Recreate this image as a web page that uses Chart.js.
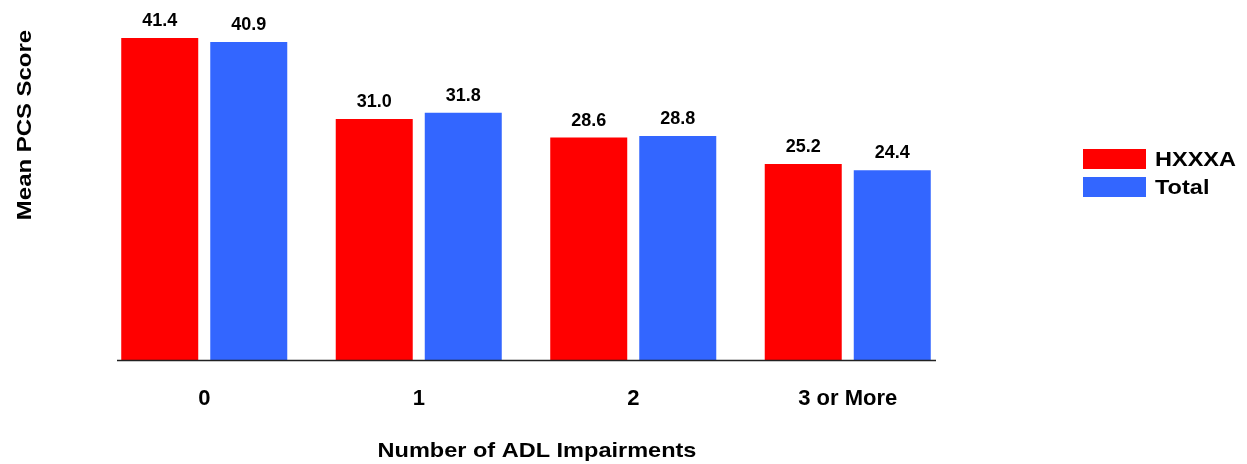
<!DOCTYPE html>
<html>
<head>
<meta charset="utf-8">
<script src="https://cdn.jsdelivr.net/npm/chart.js@4/dist/chart.umd.min.js"></script>
<style>
  html, body { margin: 0; padding: 0; background: #fff; }
  #wrap { width: 1247px; height: 464px; position: relative; }
</style>
</head>
<body>
<div id="wrap"><canvas id="myChart"></canvas></div>
<script>
const categories = ['0', '1', '2', '3 or More'];
const hxxxaValues = [41.4, 31.0, 28.6, 25.2];
const totalValues = [40.9, 31.8, 28.8, 24.4];
const seriesNames = ['HXXXA', 'Total'];
const seriesColors = ['#ff0000', '#3366ff'];

const FONT = '"Liberation Sans", Arial, Helvetica, sans-serif';

// the source text is a little wider than Liberation Sans, so stretch it
function wideText(ctx, text, x, y, stretch) {
  ctx.save();
  ctx.translate(x, y);
  ctx.scale(stretch, 1);
  ctx.fillText(text, 0, 0);
  ctx.restore();
}

// axis line, value labels, titles and legend drawn on top
const decorations = {
  id: 'decorations',
  afterDatasetsDraw(chart) {
    const ctx = chart.ctx;
    const area = chart.chartArea;
    ctx.save();

    // baseline
    ctx.strokeStyle = '#222';
    ctx.lineWidth = 1.5;
    ctx.beginPath();
    ctx.moveTo(area.left + 20, area.bottom + 0.5);
    ctx.lineTo(area.right - 19, area.bottom + 0.5);
    ctx.stroke();

    // value labels
    ctx.fillStyle = '#000';
    ctx.font = 'bold 18px ' + FONT;
    ctx.textAlign = 'center';
    ctx.textBaseline = 'alphabetic';
    chart.data.datasets.forEach((ds, i) => {
      chart.getDatasetMeta(i).data.forEach((bar, j) => {
        ctx.fillText(ds.data[j].toFixed(1), bar.x, bar.y - 12);
      });
    });

    // axis titles
    ctx.font = 'bold 21px ' + FONT;
    wideText(ctx, 'Number of ADL Impairments', 537, 457, 1.12);
    ctx.save();
    ctx.translate(31, 125);
    ctx.rotate(-Math.PI / 2);
    wideText(ctx, 'Mean PCS Score', 0, 0, 1.14);
    ctx.restore();

    // legend
    ctx.textAlign = 'left';
    ctx.textBaseline = 'middle';
    seriesNames.forEach((name, i) => {
      const y = 149 + i * 28;
      ctx.fillStyle = seriesColors[i];
      ctx.fillRect(1083, y, 63, 20);
      ctx.fillStyle = '#000';
      wideText(ctx, name, 1155, y + 11, 1.12);
    });

    ctx.restore();
  }
};

new Chart(document.getElementById('myChart').getContext('2d'), {
  type: 'bar',
  data: {
    labels: categories,
    datasets: [
      { label: seriesNames[0], data: hxxxaValues, backgroundColor: seriesColors[0] },
      { label: seriesNames[1], data: totalValues, backgroundColor: seriesColors[1] }
    ]
  },
  options: {
    responsive: true,
    maintainAspectRatio: false,
    animation: false,
    categoryPercentage: 0.83,
    barPercentage: 0.865,
    layout: { padding: { left: 97, right: 292, top: 10, bottom: 0 } },
    plugins: {
      legend: { display: false },
      tooltip: { enabled: false }
    },
    scales: {
      x: {
        grid: { display: false, drawTicks: false },
        border: { display: false },
        ticks: {
          color: '#000',
          padding: 26,
          font: { family: FONT, size: 22, weight: 'bold' }
        },
        afterFit(scale) { scale.height = 104; }
      },
      y: {
        display: false,
        min: 0,
        max: 45
      }
    }
  },
  plugins: [decorations]
});
</script>
</body>
</html>
